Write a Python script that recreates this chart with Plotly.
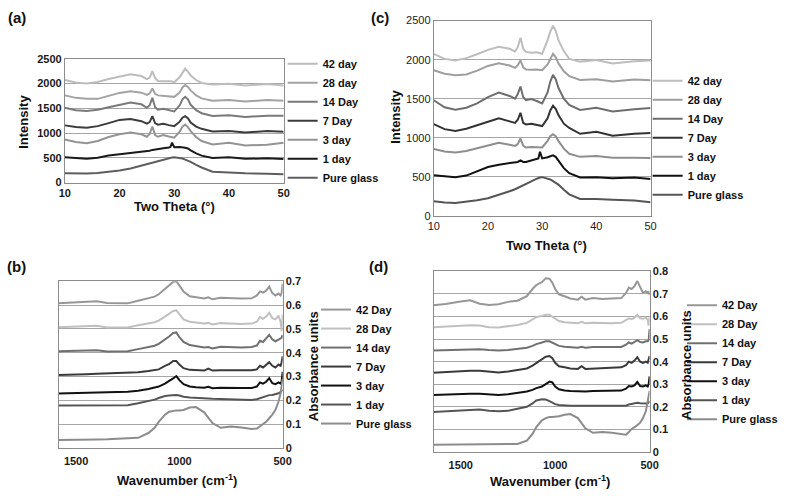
import plotly.graph_objects as go

W, H = 793, 496

# ---------------- DATA ----------------
names_xrd = ["42 day", "28 day", "14 Day", "7 Day", "3 day", "1 day", "Pure glass"]
names_ftir = ["42 Day", "28 Day", "14 day", "7 Day", "3 day", "1 day", "Pure glass"]

two_theta = [10, 12, 14, 16, 18, 20, 22, 24, 25, 25.5, 26, 26.5, 27, 28, 29, 29.3, 29.6, 30,
             31, 31.5, 32, 32.5, 33, 34, 35, 37, 40, 43, 47, 50]

# panel (a) intensities
a_42 = [2070, 2020, 2000, 2030, 2090, 2145, 2185, 2150, 2090, 2120, 2250, 2110, 2050, 2045, 2055, 2045, 2040, 2025,
        2130, 2230, 2300, 2240, 2160, 2070, 2010, 1980, 1995, 1960, 1990, 1960]
a_28 = [1760, 1710, 1690, 1690, 1750, 1810, 1845, 1815, 1770, 1800, 1900, 1790, 1760, 1750, 1740, 1740, 1735, 1730,
        1820, 1920, 1970, 1930, 1860, 1760, 1700, 1650, 1665, 1635, 1665, 1650]
a_14 = [1510, 1460, 1445, 1470, 1520, 1570, 1615, 1580, 1510, 1560, 1710, 1520, 1470, 1490, 1460, 1450, 1445, 1435,
        1560, 1680, 1730, 1680, 1570, 1460, 1400, 1345, 1360, 1325, 1350, 1350]
a_7 = [1155, 1120, 1105, 1140, 1200, 1265, 1285, 1240, 1190, 1220, 1340, 1200, 1170, 1185, 1160, 1150, 1145, 1140,
       1230, 1310, 1340, 1300, 1210, 1130, 1085, 1030, 1040, 1010, 1040, 1025]
a_3 = [870, 820, 795, 840, 920, 975, 1010, 975, 925, 980, 1130, 960, 925, 960, 930, 920, 915, 905,
       1030, 1130, 1170, 1120, 1040, 920, 840, 770, 805, 750, 765, 805]
a_1 = [510, 495, 480, 500, 545, 570, 595, 615, 635, 645, 660, 665, 675, 695, 710, 720, 805, 715,
       720, 715, 705, 690, 650, 590, 545, 495, 510, 480, 490, 475]
a_0 = [190, 185, 185, 195, 215, 245, 285, 345, 375, 390, 405, 420, 440, 470, 495, 500, 505, 510,
       500, 485, 465, 445, 420, 360, 305, 220, 200, 190, 180, 170]

# panel (c) intensities
c_42 = [2075, 2010, 1990, 2020, 2070, 2125, 2165, 2140, 2105, 2160, 2280, 2140, 2100, 2090, 2095, 2090, 2085, 2075,
        2250, 2360, 2435, 2370, 2250, 2110, 2010, 1975, 1995, 1950, 1980, 1990]
c_28 = [1865, 1820, 1800, 1810, 1860, 1920, 1955, 1925, 1895, 1930, 1990, 1900, 1875, 1870, 1875, 1870, 1870, 1865,
        1940, 2010, 2075, 2030, 1955, 1850, 1790, 1740, 1750, 1720, 1745, 1735]
c_14 = [1480, 1390, 1360, 1385, 1440, 1520, 1580, 1535, 1500, 1560, 1655, 1520, 1480, 1495, 1470, 1460, 1455, 1440,
        1580, 1720, 1805, 1750, 1640, 1500, 1420, 1355, 1385, 1335, 1365, 1380]
c_7 = [1175, 1110, 1085, 1115, 1160, 1210, 1250, 1210, 1190, 1230, 1320, 1190, 1170, 1180, 1165, 1160, 1155, 1150,
       1250, 1350, 1410, 1370, 1290, 1180, 1125, 1050, 1075, 1025, 1050, 1060]
c_3 = [855, 825, 810, 830, 865, 900, 935, 910, 895, 920, 990, 900, 875, 880, 880, 878, 876, 875,
       960, 1020, 1045, 1020, 960, 860, 795, 755, 765, 745, 745, 740]
c_1 = [520, 505, 495, 515, 570, 625, 655, 670, 680, 690, 710, 690, 690, 710, 730, 735, 820, 735,
       750, 765, 775, 755, 710, 610, 545, 490, 495, 480, 490, 470]
c_0 = [185, 170, 165, 180, 200, 225, 265, 315, 340, 355, 370, 385, 400, 440, 475, 485, 490, 495,
       480, 465, 445, 425, 400, 335, 275, 215, 215, 205, 195, 175]

wavenumber = [1650, 1580, 1500, 1450, 1400, 1350, 1300, 1250, 1200, 1150, 1120, 1100, 1070, 1050, 1030, 1015,
              1000, 980, 950, 920, 880, 860, 840, 800, 750, 700, 650, 625, 610, 595, 580, 565, 550, 535,
              520, 510, 505, 500]

# panel (b) absorbance
b_42 = [0.605, 0.608, 0.612, 0.614, 0.616, 0.608, 0.606, 0.607, 0.618, 0.627, 0.635, 0.645, 0.668, 0.685, 0.697, 0.700,
        0.683, 0.657, 0.637, 0.633, 0.627, 0.632, 0.624, 0.630, 0.628, 0.627, 0.628, 0.640, 0.657, 0.652, 0.660, 0.677,
        0.650, 0.640, 0.648, 0.640, 0.650, 0.690]
b_28 = [0.505, 0.507, 0.510, 0.512, 0.513, 0.506, 0.505, 0.506, 0.515, 0.522, 0.528, 0.535, 0.550, 0.563, 0.575, 0.578,
        0.562, 0.540, 0.530, 0.527, 0.522, 0.525, 0.518, 0.524, 0.522, 0.520, 0.522, 0.530, 0.550, 0.542, 0.552, 0.568,
        0.545, 0.540, 0.555, 0.530, 0.490, 0.560]
b_14 = [0.405, 0.406, 0.408, 0.409, 0.410, 0.405, 0.404, 0.406, 0.415, 0.422, 0.429, 0.437, 0.455, 0.468, 0.483, 0.485,
        0.465, 0.445, 0.432, 0.428, 0.422, 0.424, 0.418, 0.425, 0.423, 0.422, 0.424, 0.430, 0.450, 0.445, 0.460, 0.475,
        0.455, 0.448, 0.455, 0.458, 0.462, 0.475]
b_7 = [0.305, 0.306, 0.308, 0.310, 0.312, 0.313, 0.315, 0.316, 0.318, 0.323, 0.326, 0.330, 0.345, 0.352, 0.365, 0.365,
       0.350, 0.335, 0.328, 0.326, 0.325, 0.333, 0.325, 0.326, 0.327, 0.325, 0.326, 0.330, 0.345, 0.338, 0.348, 0.360,
       0.345, 0.338, 0.350, 0.345, 0.360, 0.385]
b_3 = [0.228, 0.230, 0.232, 0.233, 0.234, 0.234, 0.235, 0.236, 0.240, 0.248, 0.253, 0.258, 0.270, 0.280, 0.292, 0.302,
       0.285, 0.268, 0.258, 0.255, 0.253, 0.257, 0.251, 0.253, 0.254, 0.252, 0.252, 0.258, 0.275, 0.270, 0.278, 0.293,
       0.272, 0.268, 0.275, 0.270, 0.280, 0.320]
b_1 = [0.178, 0.178, 0.178, 0.178, 0.179, 0.179, 0.179, 0.180, 0.188, 0.196, 0.203, 0.210, 0.218, 0.220, 0.222, 0.222,
       0.220, 0.215, 0.212, 0.210, 0.208, 0.207, 0.207, 0.206, 0.205, 0.203, 0.202, 0.205, 0.210, 0.213, 0.218, 0.222,
       0.223, 0.225, 0.230, 0.235, 0.240, 0.245]
b_0 = [0.033, 0.033, 0.034, 0.035, 0.036, 0.037, 0.038, 0.039, 0.043, 0.063, 0.085, 0.110, 0.140, 0.152, 0.157, 0.158,
       0.158, 0.160, 0.170, 0.172, 0.150, 0.128, 0.105, 0.085, 0.090, 0.086, 0.080, 0.082, 0.092, 0.100, 0.110, 0.125,
       0.140, 0.160, 0.195, 0.230, 0.260, 0.290]

# panel (d) absorbance
d_42 = [0.650, 0.656, 0.667, 0.672, 0.657, 0.651, 0.655, 0.665, 0.670, 0.690, 0.722, 0.740, 0.752, 0.770, 0.768, 0.750,
        0.722, 0.698, 0.690, 0.680, 0.675, 0.688, 0.675, 0.682, 0.678, 0.680, 0.682, 0.705, 0.728, 0.722, 0.735, 0.757,
        0.730, 0.705, 0.712, 0.705, 0.712, 0.695]
d_28 = [0.553, 0.556, 0.560, 0.562, 0.560, 0.553, 0.552, 0.556, 0.563, 0.572, 0.588, 0.597, 0.603, 0.608, 0.608, 0.600,
        0.590, 0.580, 0.575, 0.573, 0.570, 0.577, 0.570, 0.572, 0.570, 0.570, 0.572, 0.585, 0.592, 0.588, 0.595, 0.608,
        0.592, 0.590, 0.595, 0.585, 0.560, 0.600]
d_14 = [0.450, 0.451, 0.452, 0.454, 0.455, 0.452, 0.450, 0.452, 0.458, 0.462, 0.470, 0.478, 0.485, 0.490, 0.490, 0.485,
        0.478, 0.470, 0.466, 0.463, 0.462, 0.466, 0.462, 0.465, 0.465, 0.463, 0.465, 0.475, 0.485, 0.480, 0.488, 0.495,
        0.487, 0.485, 0.490, 0.490, 0.495, 0.545]
d_7 = [0.351, 0.355, 0.358, 0.360, 0.360, 0.355, 0.352, 0.356, 0.362, 0.370, 0.383, 0.395, 0.410, 0.422, 0.425, 0.415,
       0.395, 0.380, 0.375, 0.370, 0.368, 0.380, 0.368, 0.370, 0.372, 0.372, 0.375, 0.385, 0.400, 0.395, 0.405, 0.420,
       0.400, 0.395, 0.400, 0.395, 0.410, 0.425]
d_3 = [0.252, 0.255, 0.257, 0.258, 0.258, 0.254, 0.252, 0.256, 0.262, 0.268, 0.275, 0.283, 0.290, 0.300, 0.312, 0.308,
       0.290, 0.278, 0.272, 0.270, 0.268, 0.270, 0.268, 0.270, 0.270, 0.270, 0.272, 0.280, 0.292, 0.290, 0.295, 0.310,
       0.292, 0.290, 0.295, 0.290, 0.300, 0.335]
d_1 = [0.177, 0.180, 0.183, 0.185, 0.188, 0.183, 0.180, 0.182, 0.190, 0.200, 0.215, 0.228, 0.233, 0.232, 0.225, 0.218,
       0.212, 0.208, 0.206, 0.205, 0.205, 0.205, 0.205, 0.204, 0.203, 0.202, 0.202, 0.205, 0.210, 0.213, 0.215, 0.218,
       0.216, 0.215, 0.213, 0.215, 0.220, 0.225]
d_0 = [0.032, 0.032, 0.032, 0.032, 0.033, 0.033, 0.033, 0.034, 0.035, 0.050, 0.080, 0.110, 0.140, 0.150, 0.155, 0.155,
       0.155, 0.158, 0.165, 0.168, 0.150, 0.130, 0.105, 0.085, 0.088, 0.085, 0.078, 0.076, 0.088, 0.102, 0.110, 0.118,
       0.130, 0.150, 0.180, 0.220, 0.245, 0.270]

colors_a = ["#bdbdbd", "#a3a3a3", "#7a7a7a", "#3c3c3c", "#949494", "#1a1a1a", "#5e5e5e"]
colors_c = ["#bdbdbd", "#9e9e9e", "#6e6e6e", "#333333", "#8e8e8e", "#111111", "#555555"]
colors_bd = ["#979797", "#c0c0c0", "#707070", "#3a3a3a", "#111111", "#555555", "#8c8c8c"]

FONT = "Liberation Sans, Arial, sans-serif"

# ---------------- FIGURE ----------------
fig = go.Figure()


def px_x(p):
    return p / W


def px_y(p):
    return 1 - p / H


panels = [
    ("a", two_theta, [a_42, a_28, a_14, a_7, a_3, a_1, a_0], names_xrd, colors_a, "x", "y", "legend"),
    ("c", two_theta, [c_42, c_28, c_14, c_7, c_3, c_1, c_0], names_xrd, colors_c, "x2", "y2", "legend2"),
    ("b", wavenumber, [b_42, b_28, b_14, b_7, b_3, b_1, b_0], names_ftir, colors_bd, "x3", "y3", "legend3"),
    ("d", wavenumber, [d_42, d_28, d_14, d_7, d_3, d_1, d_0], names_ftir, colors_bd, "x4", "y4", "legend4"),
]

for key, xs, series, names, cols, xa, ya, lg in panels:
    for nm, ys, col in zip(names, series, cols):
        fig.add_trace(go.Scatter(x=xs, y=ys, mode="lines", name=nm, xaxis=xa, yaxis=ya, legend=lg,
                                 line=dict(color=col, width=2), hoverinfo="skip"))

grid = "#a6a6a6"
frame = "#8c8c8c"
tick_bold = dict(family=FONT, size=11, color="#1a1a1a", weight="bold")
tick_reg = dict(family=FONT, size=11, color="#222222")

common_x = dict(showgrid=False, zeroline=False, ticks="", showline=True, linecolor=frame, linewidth=1, mirror=True)

fig.update_layout(
    width=W, height=H, margin=dict(l=0, r=0, t=0, b=0),
    paper_bgcolor="white", plot_bgcolor="white",
    showlegend=True,
    # panel (a)
    xaxis=dict(domain=[px_x(60), px_x(283)], range=[10, 50], dtick=10, anchor="y", tickfont=tick_bold, **common_x),
    yaxis=dict(domain=[px_y(181), px_y(54)], range=[0, 2500], dtick=500, anchor="x", showgrid=True, gridcolor=grid,
               zeroline=False, ticks="", showline=True, linecolor=frame, mirror=True, tickfont=tick_bold),
    # panel (c)
    xaxis2=dict(domain=[px_x(436), px_x(657)], range=[10, 50], dtick=10, anchor="y2", tickfont=tick_reg, **common_x),
    yaxis2=dict(domain=[px_y(215), px_y(15)], range=[0, 2500], dtick=500, anchor="x2", showgrid=True, gridcolor=grid,
                zeroline=False, ticks="", showline=True, linecolor=frame, mirror=True, tickfont=tick_reg),
    # panel (b)
    xaxis3=dict(domain=[px_x(54), px_x(282)], range=[1583, 500], tickvals=[1500, 1000, 500], anchor="y3",
                tickfont=tick_bold, ticklabelstandoff=3, **common_x),
    yaxis3=dict(domain=[px_y(453), px_y(282)], range=[0, 0.7], dtick=0.1, anchor="x3", side="right",
                showgrid=True, gridcolor=grid, zeroline=False, ticks="", showline=True, linecolor=frame,
                mirror=True, tickfont=tick_bold),
    # panel (d)
    xaxis4=dict(domain=[px_x(436), px_x(656)], range=[1643, 500], tickvals=[1500, 1000, 500], anchor="y4",
                tickfont=tick_bold, ticklabelstandoff=3, **common_x),
    yaxis4=dict(domain=[px_y(457), px_y(272)], range=[0, 0.8], dtick=0.1, anchor="x4", side="right",
                showgrid=True, gridcolor=grid, zeroline=False, ticks="", showline=True, linecolor=frame,
                mirror=True, tickfont=tick_bold),
)

leg_font = dict(family=FONT, size=11, color="#111111", weight="bold")
leg_common = dict(font=leg_font, bgcolor="rgba(0,0,0,0)", borderwidth=0, tracegroupgap=0, itemwidth=30,
                  xanchor="left", yanchor="middle", orientation="v")
fig.update_layout(
    legend=dict(x=px_x(282), y=px_y(117.5), **leg_common),
    legend2=dict(x=px_x(654), y=px_y(135), **leg_common),
    legend3=dict(x=px_x(316), y=px_y(369.5), **leg_common),
    legend4=dict(x=px_x(689), y=px_y(365), **leg_common),
)

title_font = dict(family=FONT, size=13, color="#111111", weight="bold")
label_font = dict(family=FONT, size=15, color="#111111", weight="bold")


def ann(text, x, y, font, angle=0):
    fig.add_annotation(text=text, x=px_x(x), y=px_y(y), xref="paper", yref="paper", showarrow=False,
                       xanchor="center", yanchor="middle", textangle=angle, font=font)


ann("(a)", 11, 12, label_font)
ann("(c)", 381, 12, label_font)
ann("(b)", 11, 267, label_font)
ann("(d)", 380, 267, label_font)

ann("Intensity", 17, 119, title_font, -90)
ann("Two Theta (°)", 172, 205, title_font)
ann("Intensity", 397, 113, title_font, -90)
ann("Two Theta (°)", 551, 245, title_font)
ann("Absorbance units", 313, 369, title_font, -90)
ann("Wavenumber (cm<sup>-1</sup>)", 174, 486, title_font)
ann("Absorbance units", 693, 368, title_font, -90)
ann("Wavenumber (cm<sup>-1</sup>)", 554, 487, title_font)

fig.write_html("out.html", config={"displayModeBar": False},
               post_script="document.body.style.margin='0px';document.body.style.overflow='hidden';")
